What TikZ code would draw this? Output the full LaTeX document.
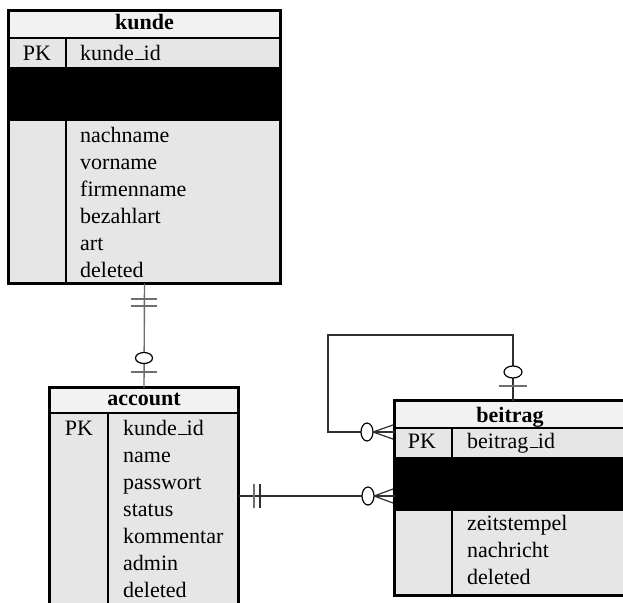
\documentclass[tikz,border=0pt]{standalone}
\usepackage{fontspec}
\setmainfont{Liberation Serif}
\usetikzlibrary{calc}
\definecolor{titlegray}{HTML}{F2F2F2}
\definecolor{rowgray}{HTML}{E6E6E6}
\definecolor{lightconn}{HTML}{6E6E6E}
\definecolor{darkconn}{HTML}{303030}
\newcommand{\myus}{\kern.06em\vbox{\hrule width .38em height 1.3pt}}
\begin{document}
\begin{tikzpicture}[x=1pt,y=-1pt,
  tablebox/.style={draw=black,line width=3pt,inner sep=0pt,outer sep=0pt,fill=none},
  seprule/.style={black,line width=2pt},
  divrule/.style={black,line width=2.5pt},
  titletext/.style={anchor=base,inner sep=0pt,font=\fontsize{22}{26}\selectfont\bfseries},
  celltext/.style={anchor=base west,inner sep=0pt,font=\fontsize{22}{26}\selectfont},
  pktext/.style={anchor=base,inner sep=0pt,font=\fontsize{22}{26}\selectfont},
  connline/.style={darkconn,line width=1.2pt},
  connlight/.style={lightconn,line width=1.4pt},
  ringmark/.style={line width=1.2pt,fill=white}
]
\useasboundingbox (0,0) rectangle (623,602);
\fill[white] (0,0) rectangle (623,602);
\clip (0,0) rectangle (623,602);

% ---------- kunde ----------
\fill[titlegray] (7,9) rectangle (282,38);
\fill[rowgray] (7,38) rectangle (282,67);
\fill[black] (7,67) rectangle (282,121);
\fill[rowgray] (7,121) rectangle (282,285);
\draw[seprule] (7,38) -- (282,38);
\draw[divrule] (66,38) -- (66,285);
\node[tablebox,minimum width=272pt,minimum height=273pt] (kunde) at (144.5,147) {};
\node[titletext] (kt) at (144.5,30) {kunde};
\node[pktext] (kpk) at (37,60) {PK};
\node[celltext] (k1) at (80,60) {kunde\myus id};
\node[celltext] (k2) at (80,142) {nachname};
\node[celltext] (k3) at (80,169) {vorname};
\node[celltext] (k4) at (80,196) {firmenname};
\node[celltext] (k5) at (80,223) {bezahlart};
\node[celltext] (k6) at (80,250) {art};
\node[celltext] (k7) at (80,277) {deleted};

% ---------- account ----------
\fill[titlegray] (48,386) rectangle (240,413);
\fill[rowgray] (48,413) rectangle (240,622);
\draw[seprule] (48,413) -- (240,413);
\draw[divrule] (108,413) -- (108,622);
\node[tablebox,minimum width=189pt,minimum height=232.5pt] (account) at (144,503.75) {};
\node[titletext] (at) at (144,405) {account};
\node[pktext] (apk) at (79,435) {PK};
\node[celltext] (a1) at (123,435) {kunde\myus id};
\node[celltext] (a2) at (123,462) {name};
\node[celltext] (a3) at (123,489) {passwort};
\node[celltext] (a4) at (123,516) {status};
\node[celltext] (a5) at (123,543) {kommentar};
\node[celltext] (a6) at (123,570) {admin};
\node[celltext] (a7) at (123,597) {deleted};

% ---------- beitrag ----------
\fill[titlegray] (393,399) rectangle (628,428);
\fill[rowgray] (393,428) rectangle (628,457);
\fill[black] (393,457) rectangle (628,511);
\fill[rowgray] (393,511) rectangle (628,597);
\draw[seprule] (393,428) -- (628,428);
\draw[divrule] (452,428) -- (452,597);
\node[tablebox,minimum width=231.5pt,minimum height=195pt] (beitrag) at (510.25,498) {};
\node[titletext] (bt) at (510,422) {beitrag};
\node[pktext] (bpk) at (422,448) {PK};
\node[celltext] (b1) at (467,448) {beitrag\myus id};
\node[celltext] (b2) at (467,530) {zeitstempel};
\node[celltext] (b3) at (467,557) {nachricht};
\node[celltext] (b4) at (467,584) {deleted};

% ---------- kunde -- account ----------
\draw[connlight] (kunde.south) -- (account.north);
\draw[connlight] (131,299) -- (157,299);
\draw[connlight] (131,306) -- (157,306);
\draw[ringmark,draw=black] (144,358) ellipse (8.5 and 5.5);
\draw[connlight] (131,372) -- (157,372);

% ---------- account -- beitrag ----------
\coordinate (hab) at (0,496);
\draw[connline] (account.east |- hab) -- (beitrag.west |- hab);
\draw[connlight,line width=1.6pt] (254,484) -- (254,508);
\draw[connline] (260,484) -- (260,508);
\draw[ringmark,draw=black] (368,496) ellipse (6 and 9);
\draw[connline] (374,496) -- (393,489);
\draw[connline] (374,496) -- (393,503);

% ---------- beitrag self relation ----------
\coordinate (ltop) at (513,335);
\coordinate (lleft) at (328,432);
\draw[connline] (beitrag.north -| ltop) -- (ltop) -| (lleft) -- (beitrag.west |- lleft);
\draw[ringmark,draw=black] (513,372) ellipse (9 and 6);
\draw[connlight] (499,386) -- (527,386);
\draw[ringmark,draw=black] (367,432) ellipse (6 and 9);
\draw[connline] (373,432) -- (393,425);
\draw[connline] (373,432) -- (393,439);
\end{tikzpicture}
\end{document}
